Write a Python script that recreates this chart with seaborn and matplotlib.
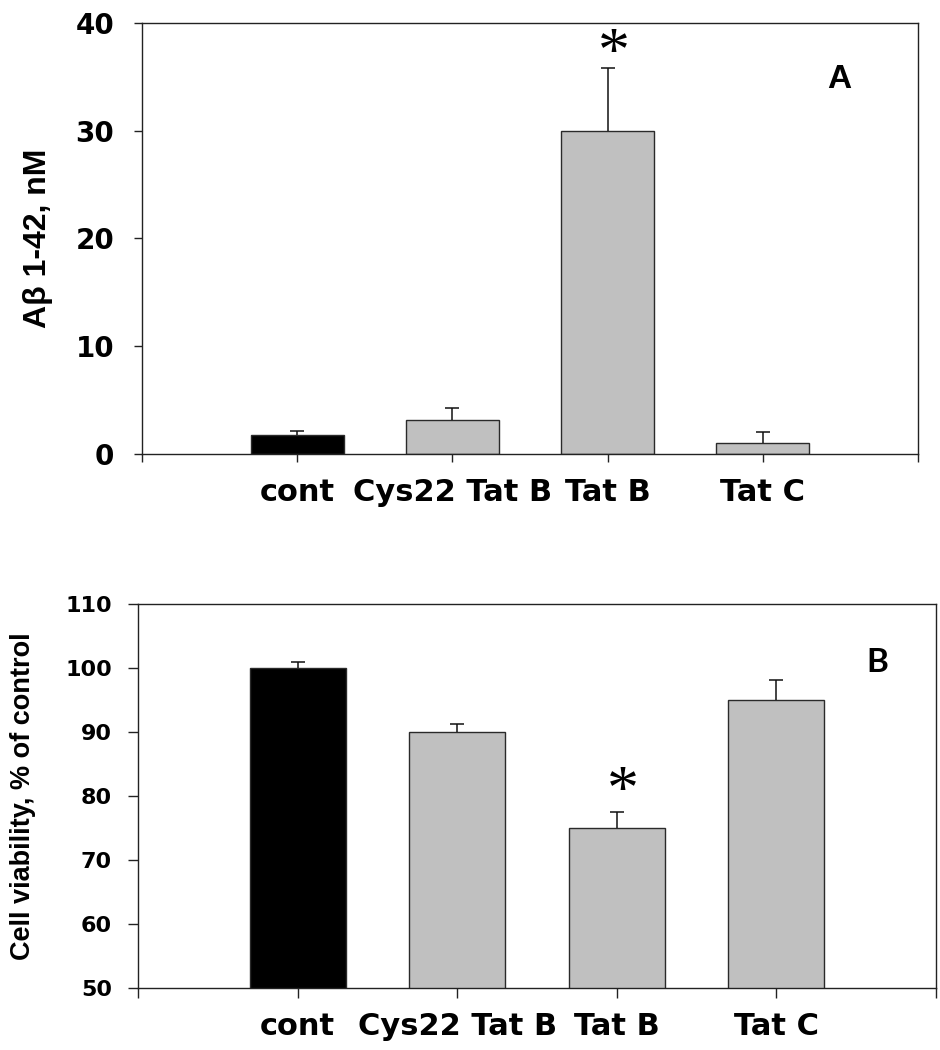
import matplotlib
matplotlib.use("Agg")
import matplotlib.pyplot as plt
import seaborn as sns
import numpy as np
import pandas as pd

# ---- data ----
categories = ["cont", "Cys22 Tat B", "Tat B", "Tat C"]
abeta_values = [1.75, 3.2, 30.0, 1.0]
abeta_err = [0.35, 1.05, 5.85, 1.0]
viab_values = [100.0, 90.0, 75.0, 95.0]
viab_err = [1.0, 1.2, 2.6, 3.1]
bar_colors = ["#000000", "#c0c0c0", "#c0c0c0", "#c0c0c0"]
abeta_ticks = [0, 10, 20, 30, 40]
viab_ticks = [50, 60, 70, 80, 90, 100, 110]

sns.set_style("ticks")
plt.rcParams["font.family"] = ["DejaVu Sans"]
for k in ["text.color", "axes.labelcolor", "xtick.color", "ytick.color",
          "xtick.labelcolor", "ytick.labelcolor"]:
    plt.rcParams[k] = "black"

fig = plt.figure(figsize=(9.4, 10.5), dpi=100)
axA = fig.add_axes([142 / 940, 1 - 454 / 1050, 776 / 940, 431 / 1050])
axB = fig.add_axes([138.3 / 940, 1 - 988.3 / 1050, 797.4 / 940, 384.3 / 1050])

label_font = ["Liberation Sans", "DejaVu Sans"]


def draw(ax, vals, errs, yticks, ylim, ylabel, tick_fs, label_fs, label_x,
         letter, letter_pos, letter_font, letter_fs, star_y, xpad, ypad, ticklen):
    df = pd.DataFrame({"cat": categories, "val": vals})
    sns.barplot(data=df, x="cat", y="val", hue="cat", palette=bar_colors,
                legend=False, width=0.6, edgecolor="#2a2a2a", linewidth=1.0,
                errorbar=None, ax=ax, zorder=2)
    xs = np.arange(len(categories))
    _, caps, _ = ax.errorbar(xs, vals, yerr=[np.zeros(len(vals)), errs], fmt="none",
                             ecolor="#111111", elinewidth=1.1, capsize=4.8,
                             capthick=1.1, zorder=3)
    caps[0].set_visible(False)
    ax.set_xlim(-1, 4)
    ax.set_ylim(*ylim)
    ax.set_xticks([-1, 0, 1, 2, 3, 4])
    ax.set_xticklabels([""] + categories + [""], fontsize=22, fontweight="bold")
    ax.set_yticks(yticks)
    ax.set_yticklabels([str(t) for t in yticks], fontsize=tick_fs, fontweight="bold")
    ax.tick_params(axis="x", direction="out", length=ticklen, width=1.0,
                   pad=xpad, color="#222222")
    ax.tick_params(axis="y", direction="out", length=ticklen, width=1.0,
                   pad=ypad, color="#222222")
    for s in ax.spines.values():
        s.set_visible(True)
        s.set_linewidth(1.0)
        s.set_color("#222222")
    ax.set_xlabel("")
    ax.set_ylabel(ylabel, fontsize=label_fs, fontweight="bold", family=label_font)
    ax.yaxis.set_label_coords(label_x, 0.5)
    ax.text(letter_pos[0], letter_pos[1], letter, transform=ax.transAxes,
            ha="center", va="baseline", fontsize=letter_fs, fontweight="bold",
            family=letter_font)
    ax.text(2.04, star_y, "*", ha="center", va="center", fontsize=46,
            family=["Liberation Serif", "DejaVu Serif"])


draw(axA, abeta_values, abeta_err, abeta_ticks, (0, 40), "A\u03b2 1-42, nM",
     20, 23, -0.115, "A", (0.898, 0.849), ["Liberation Sans", "DejaVu Sans"], 24,
     36.9, 11.5, 14, 6)
draw(axB, viab_values, viab_err, viab_ticks, (50, 110), "Cell viability, % of control",
     16, 19.5, -0.128, "B", (0.927, 0.823), ["Lato", "Open Sans", "DejaVu Sans"], 24,
     80.3, 10, 12, 7)

fig.savefig("out.png", dpi=100)
